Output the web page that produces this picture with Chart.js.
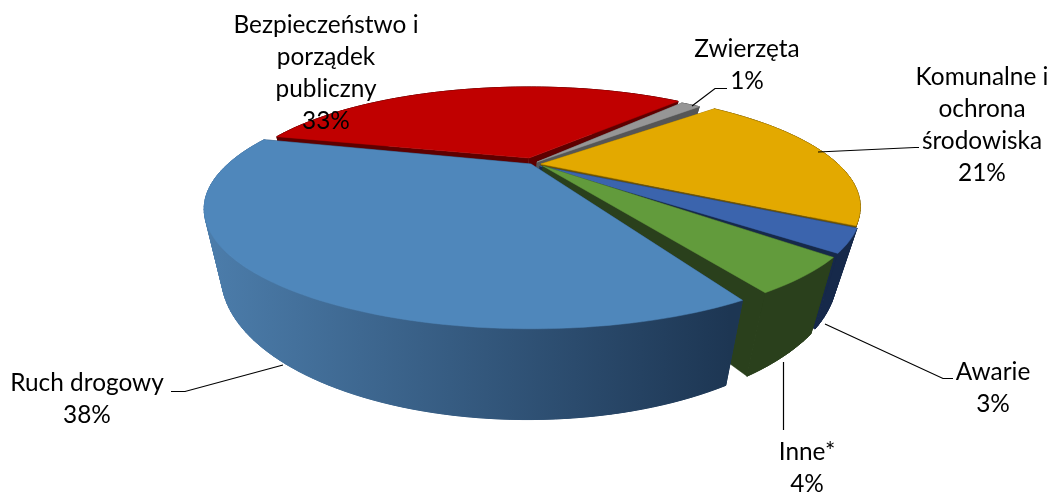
<!DOCTYPE html>
<html>
<head>
<meta charset="utf-8">
<script src="https://cdn.jsdelivr.net/npm/chart.js@4/dist/chart.umd.min.js"></script>
<style>
  html, body { margin: 0; padding: 0; background: #fff; overflow: hidden; }
  canvas { display: block; }
</style>
</head>
<body>
<canvas id="pie3d" width="1051" height="492"></canvas>
<script>
const categories = ['Bezpieczeństwo i porządek publiczny', 'Zwierzęta', 'Komunalne i ochrona środowiska', 'Awarie', 'Inne*', 'Ruch drogowy'];
const shares = [33, 1, 21, 3, 4, 38];

const topColors = ['#C00000', '#969696', '#E3A900', '#3B64AD', '#629B3C', '#4F87BB'];
const wallColors = ['#5E0000', '#565656', '#6E5300', '#16294A', '#2A401C', '#1F3A58'];
const tips = [[529, 158], [537, 162], [541, 164], [540, 166], [543, 166], [531, 164]];
const radii = [0.93, 0.95, 0.98, 0.985, 0.98, 1];
// small corrections in degrees [start, end], the projection eats a bit on the near side
const nudges = [[1, 0], [-2, -0.5], [1.5, -1], [-1, -1], [1, 3], [6, 2]];

// wrapped label text + anchor, leader lines are [x, y] runs
const labelLines = [
  ['Bezpieczeństwo i', 'porządek', 'publiczny'], ['Zwierzęta'], ['Komunalne i', 'ochrona', 'środowiska'],
  ['Awarie'], ['Inne*'], ['Ruch drogowy']
];
const labelPos = [[326, 25], [747, 49], [982, 77], [993, 372], [807, 452], [87, 383]];
const leaders = [
  null,
  [[692, 106], [715, 88.5], [727, 88.5]],
  [[818, 152], [915, 147.5], [919, 147.5]],
  [[825, 324], [943, 378.5], [953, 378.5]],
  [[783.5, 362], [783.5, 430]],
  [[283, 365], [185, 391.5], [171, 391.5]]
];

// perspective: far rim is much closer to the tip than the near rim
const A = 303, B = 103, K = 0.375;
const project = (tip, u, v) => {
  const w = 1 - K * v;
  return [tip[0] + A * u / w, tip[1] + B * v / w];
};
const dropPoint = (p) => [30 + 0.937 * p[0], 25 + 1.2 * p[1]];

function poly(ctx, pts, fill, lw) {
  ctx.beginPath();
  pts.forEach((p, i) => (i ? ctx.lineTo(p[0], p[1]) : ctx.moveTo(p[0], p[1])));
  ctx.closePath();
  ctx.fillStyle = fill;
  ctx.strokeStyle = fill;
  ctx.lineWidth = lw || 0.5;
  ctx.fill();
  ctx.stroke();
}

const pie3d = {
  id: 'pie3d',
  beforeDatasetsDraw(chart) {
    const ctx = chart.ctx;
    chart.getDatasetMeta(0).data.forEach((arc, i) => {
      const props = arc.getProps(['startAngle', 'endAngle'], true);
      const startAngle = props.startAngle + nudges[i][0] * Math.PI / 180;
      const endAngle = props.endAngle + nudges[i][1] * Math.PI / 180;
      const tip = tips[i];
      const r = radii[i];
      const steps = Math.max(4, Math.ceil((endAngle - startAngle) * 40));
      const rim = [];
      for (let s = 0; s <= steps; s++) {
        const a = startAngle + (endAngle - startAngle) * s / steps;
        rim.push(project(tip, r * Math.cos(a), r * Math.sin(a)));
      }
      const rimLow = rim.map(dropPoint);
      const tipLow = dropPoint(tip);

      poly(ctx, [tip, rim[0], rimLow[0], tipLow], wallColors[i]);
      poly(ctx, [tip, rim[steps], rimLow[steps], tipLow], wallColors[i]);

      let wall = wallColors[i];
      if (i === shares.length - 1) {
        wall = ctx.createLinearGradient(205, 0, 730, 0);
        wall.addColorStop(0, '#4C7DAB');
        wall.addColorStop(1, '#1D3653');
      }
      // quads close the tangent at the silhouette, the ring on top hides their seams
      for (let s = 0; s < steps; s++) {
        poly(ctx, [rim[s], rim[s + 1], rimLow[s + 1], rimLow[s]], wall, 1);
      }
      poly(ctx, rim.concat(rimLow.slice().reverse()), wall);
      poly(ctx, [tip].concat(rim), topColors[i]);
    });
    return false;
  },
  afterDraw(chart) {
    const ctx = chart.ctx;
    ctx.strokeStyle = '#000';
    ctx.lineWidth = 1.2;
    leaders.forEach((run) => {
      if (!run) return;
      ctx.beginPath();
      run.forEach((p, i) => (i ? ctx.lineTo(p[0], p[1]) : ctx.moveTo(p[0], p[1])));
      ctx.stroke();
    });
    ctx.fillStyle = '#000';
    ctx.font = '24.4px Lato';
    ctx.textAlign = 'center';
    ctx.textBaseline = 'middle';
    labelLines.forEach((lines, i) => {
      const all = lines.concat(shares[i] + '%');
      all.forEach((t, n) => ctx.fillText(t, labelPos[i][0], labelPos[i][1] + n * 32));
    });
  }
};

new Chart(document.getElementById('pie3d'), {
  type: 'pie',
  data: {
    labels: categories,
    datasets: [{ data: shares, backgroundColor: topColors, borderWidth: 0 }]
  },
  options: {
    responsive: false,
    animation: false,
    rotation: 283,
    plugins: { legend: { display: false }, tooltip: { enabled: false } }
  },
  plugins: [pie3d]
});
</script>
</body>
</html>
